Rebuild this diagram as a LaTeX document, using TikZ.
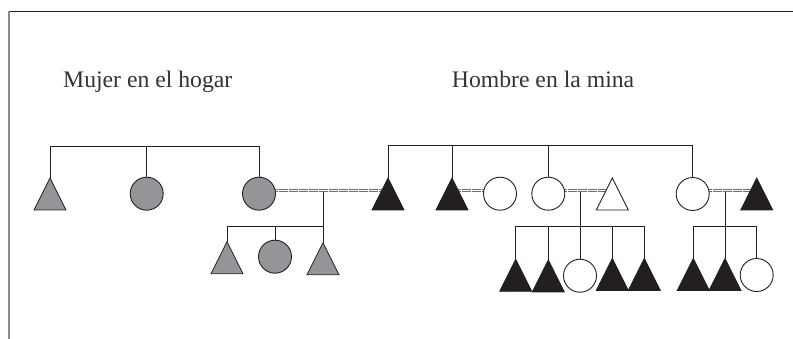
\documentclass[tikz,border=0pt]{standalone}
\usepackage{fontspec}
\setmainfont{Liberation Serif}
\usetikzlibrary{backgrounds}
\definecolor{ink}{HTML}{231F20}
\definecolor{gfill}{HTML}{939598}
\definecolor{dline}{HTML}{6D6E71}
\definecolor{txt}{HTML}{333333}
\definecolor{framel}{HTML}{8A8A8A}
\newcommand\tri[4]{%
  \path[#4] (#2-16,#3+32) -- (#2,#3) -- (#2+16,#3+32) -- cycle;
  \coordinate (#1) at (#2,#3);}
\begin{document}
\begin{tikzpicture}[x=1pt,y=-1pt,
  lin/.style={draw=ink, line width=0.9pt},
  circ/.style={circle, draw=ink, line width=0.9pt, minimum size=33pt, inner sep=0pt},
  grayc/.style={circ, fill=gfill},
  whitec/.style={circ, fill=white},
  grayt/.style={draw=ink, line width=0.8pt, fill=gfill, line join=miter},
  blackt/.style={draw=ink, line width=0.8pt, fill=ink},
  whitet/.style={draw=ink, line width=0.9pt, fill=white},
  marr/.style={draw=dline, line width=0.7pt, double=white, double distance=1.6pt, dash pattern=on 9pt off 1pt},
  lbl/.style={font=\fontsize{23.7}{28}\selectfont, text=txt, anchor=base west, inner sep=0pt}]
\useasboundingbox (0,0) rectangle (793,339);
% frame
\draw[ink, line width=0.9pt] (8,11.3) -- (793,11.3);
\draw[framel, line width=1.4pt] (9,11) -- (9,339);
% labels
\node[lbl] (lmujer) at (63,87.3) {Mujer en el hogar};
\node[lbl] (lhombre) at (451.7,87.3) {Hombre en la mina};
% level-line coordinates
\coordinate (tbl) at (0,146.7);
\coordinate (tbr) at (0,145.7);
\coordinate (bl) at (0,226);
\coordinate (bm) at (0,226.5);
\coordinate (br) at (0,226.5);
% generation 1, left family (grey)
\tri{t1}{50}{178}{grayt}
\node[grayc] (c2) at (146.7,193.7) {};
\node[grayc] (c3) at (259,193.7) {};
% generation 1, right family
\tri{ta}{388}{178}{blackt}
\tri{tb}{452}{178}{blackt}
\node[whitec] (cc) at (500,193.7) {};
\node[whitec] (cd) at (548.3,193.7) {};
\tri{te}{612.3}{178}{whitet}
\node[whitec] (cf) at (692.7,194) {};
\tri{tg}{756.7}{178}{blackt}
% children of c3 + ta
\tri{k1}{227}{241.7}{grayt}
\node[grayc] (k2) at (275,256.7) {};
\tri{k3}{323}{242.7}{grayt}
% children of cd + te
\tri{m1}{515.7}{259.3}{blackt}
\tri{m2}{548.3}{260}{blackt}
\node[whitec] (m3) at (580,275.7) {};
\tri{m4}{612.3}{258.5}{blackt}
\tri{m5}{644.3}{258.5}{blackt}
% children of cf + tg
\tri{n1}{693.3}{258.5}{blackt}
\tri{n2}{725}{258.5}{blackt}
\node[whitec] (n3) at (756.7,275) {};
% marriage points
\coordinate (w1) at (323,190.5);
\coordinate (w2) at (580,190.5);
\coordinate (w3) at (725,190.5);
\begin{scope}[on background layer]
  % sibling brackets, generation 1
  \draw[lin] (t1) -- (t1 |- tbl) -- (c3 |- tbl) -- (c3.north);
  \draw[lin] (c2.north) -- (c2 |- tbl);
  \draw[lin] (ta) -- (ta |- tbr) -- (cf |- tbr) -- (cf.north);
  \draw[lin] (tb) -- (tb |- tbr);
  \draw[lin] (cd.north) -- (cd |- tbr);
  % marriages
  \draw[marr] (c3.center |- w1) -- (ta |- w1);
  \draw[marr] (tb |- w1) -- (cc.center |- w1);
  \draw[marr] (cd.center |- w2) -- (te |- w2);
  \draw[marr] (cf.center |- w3) -- (tg |- w3);
  % descent lines
  \draw[lin] ([yshift=-1.5pt]w1) -- (k3);
  \draw[lin] ([yshift=-1.5pt]w2) -- (m3.north);
  \draw[lin] ([yshift=-1.5pt]w3) -- (n2);
  % sibling brackets, generation 2
  \draw[lin] (k1) -- (k1 |- bl) -- (k3 |- bl);
  \draw[lin] (k2.north) -- (k2 |- bl);
  \draw[lin] (m1) -- (m1 |- bm) -- (m5 |- bm) -- (m5);
  \draw[lin] (m2) -- (m2 |- bm);
  \draw[lin] (m4) -- (m4 |- bm);
  \draw[lin] (n1) -- (n1 |- br) -- (n3 |- br) -- (n3.north);
\end{scope}
\end{tikzpicture}
\end{document}
